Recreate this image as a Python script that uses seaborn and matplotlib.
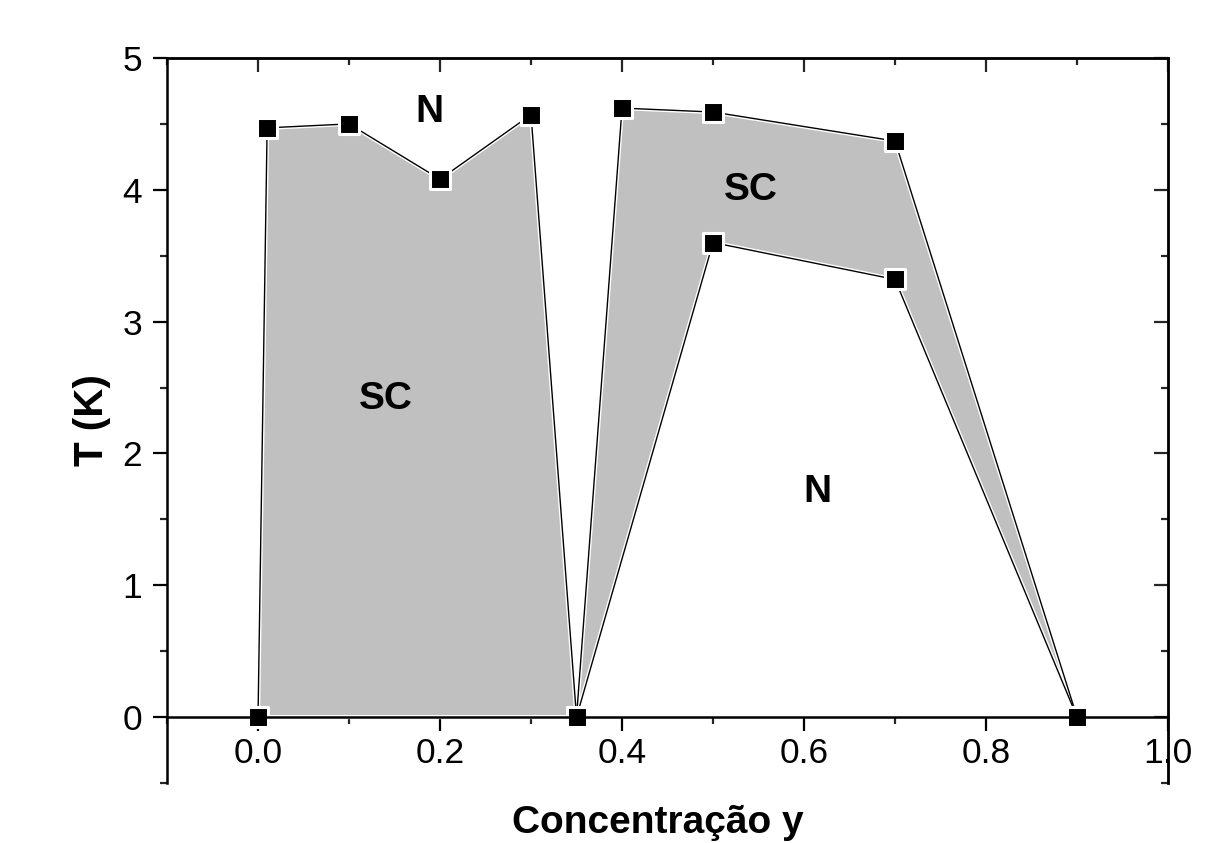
import matplotlib
matplotlib.use("Agg")
import matplotlib.pyplot as plt
from matplotlib.ticker import MultipleLocator, NullFormatter
import seaborn as sns
import pandas as pd

# Upper transition line T(y)
conc_upper = [0.0, 0.01, 0.1, 0.2, 0.3, 0.35, 0.4, 0.5, 0.7, 0.9]
temp_upper = [0.0, 4.47, 4.50, 4.08, 4.57, 0.0, 4.62, 4.59, 4.37, 0.0]
# Lower (reentrant) transition line
conc_lower = [0.35, 0.5, 0.7, 0.9]
temp_lower = [0.0, 3.60, 3.32, 0.0]

# Phase labels
region_text = ["N", "SC", "SC", "N"]
region_x = [0.188, 0.14, 0.541, 0.615]
region_y = [4.59, 2.41, 4.00, 1.71]

x_ticks = [0.0, 0.2, 0.4, 0.6, 0.8, 1.0]
y_ticks = [0, 1, 2, 3, 4, 5]

sns.set_style("ticks")
plt.rcParams["font.family"] = ["Liberation Sans", "DejaVu Sans"]
plt.rcParams["text.color"] = "black"
plt.rcParams["axes.labelcolor"] = "black"

fig = plt.figure(figsize=(12.2, 8.43), dpi=100)
ax = fig.add_axes([0.1369, 0.0712, 0.8205, 0.8600])

upper = pd.DataFrame({"y": conc_upper, "T": temp_upper})
lower = pd.DataFrame({"y": conc_lower, "T": temp_lower})

# Superconducting regions
split = conc_upper.index(0.35)
dome1_x = conc_upper[:split + 1]
dome1_t = temp_upper[:split + 1]
dome2_x = conc_upper[split:] + conc_lower[::-1]
dome2_t = temp_upper[split:] + temp_lower[::-1]
for px, pt in [(dome1_x, dome1_t), (dome2_x, dome2_t)]:
    ax.fill(px, pt, facecolor="#c0c0c0", edgecolor="white", linewidth=3.0, zorder=1)

# Transition lines
for df in (upper, lower):
    sns.lineplot(data=df, x="y", y="T", ax=ax, color="black", linewidth=1.0,
                 estimator=None, sort=False, zorder=2)
    sns.scatterplot(data=df, x="y", y="T", ax=ax, marker="s", s=200,
                    color="black", edgecolor="white", linewidth=2.2, zorder=2.2)

for t, xx, yy in zip(region_text, region_x, region_y):
    ax.text(xx, yy, t, fontsize=28, fontweight="bold", ha="center", va="center",
            color="black")

ax.set_xlim(-0.1, 1.0)
ax.set_ylim(-0.5, 5.0)

lw = 1.8
ax.spines["bottom"].set_position(("data", 0))
for s in ax.spines.values():
    s.set_linewidth(lw)
    s.set_color("black")
    s.set_visible(True)
ax.spines["bottom"].set_zorder(2.5)

ax.xaxis.set_major_locator(MultipleLocator(0.2))
ax.xaxis.set_minor_locator(MultipleLocator(0.1))
ax.yaxis.set_major_locator(MultipleLocator(1))
ax.yaxis.set_minor_locator(MultipleLocator(0.5))
ax.set_xticks(x_ticks)
ax.set_xticklabels([f"{v:.1f}" for v in x_ticks])
ax.set_yticks(y_ticks)
ax.set_yticklabels([str(v) for v in y_ticks])

ax.tick_params(axis="both", which="major", direction="out", length=10, width=1.6,
               labelsize=25.5, colors="black", top=False, right=False, pad=4)
ax.tick_params(axis="both", which="minor", direction="out", length=5, width=1.6,
               top=False, right=False)
ax.tick_params(axis="y", which="major", pad=8)

# Inward ticks on the top and right frame
secx = ax.secondary_xaxis("top")
secx.xaxis.set_major_locator(MultipleLocator(0.2))
secx.xaxis.set_minor_locator(MultipleLocator(0.1))
secx.xaxis.set_major_formatter(NullFormatter())
secx.tick_params(which="major", direction="in", length=10, width=1.6)
secx.tick_params(which="minor", direction="in", length=5, width=1.6)
secx.spines["top"].set_linewidth(lw)

secy = ax.secondary_yaxis("right")
secy.yaxis.set_major_locator(MultipleLocator(1))
secy.yaxis.set_minor_locator(MultipleLocator(0.5))
secy.yaxis.set_major_formatter(NullFormatter())
secy.tick_params(which="major", direction="in", length=10, width=1.6)
secy.tick_params(which="minor", direction="in", length=5, width=1.6)
secy.spines["right"].set_linewidth(lw)

ax.set_xlabel("Concentração y", fontsize=28, fontweight="bold")
ax.set_ylabel("T (K)", fontsize=29, fontweight="bold")
ax.xaxis.set_label_coords(0.49, -0.030)
ax.yaxis.set_label_coords(-0.056, 0.5)

fig.savefig("out.png", dpi=100)
